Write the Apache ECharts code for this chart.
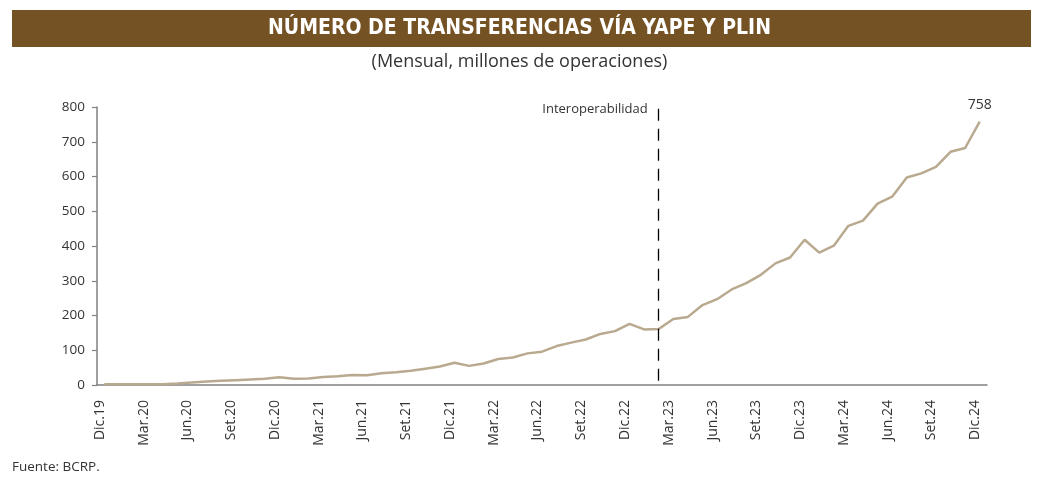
<!DOCTYPE html>
<html>
<head>
<meta charset="utf-8">
<script src="https://cdn.jsdelivr.net/npm/echarts@6/dist/echarts.min.js"></script>
<style>
  html, body { margin: 0; padding: 0; background: #fff; }
  #container { width: 1039px; height: 479px; }
</style>
</head>
<body>
<div id="container"></div>
<script>
// meses, dic.19 - dic.24
var meses = [
  'Dic.19',
  'Ene.20', 'Feb.20', 'Mar.20', 'Abr.20', 'May.20', 'Jun.20', 'Jul.20', 'Ago.20', 'Set.20', 'Oct.20', 'Nov.20', 'Dic.20',
  'Ene.21', 'Feb.21', 'Mar.21', 'Abr.21', 'May.21', 'Jun.21', 'Jul.21', 'Ago.21', 'Set.21', 'Oct.21', 'Nov.21', 'Dic.21',
  'Ene.22', 'Feb.22', 'Mar.22', 'Abr.22', 'May.22', 'Jun.22', 'Jul.22', 'Ago.22', 'Set.22', 'Oct.22', 'Nov.22', 'Dic.22',
  'Ene.23', 'Feb.23', 'Mar.23', 'Abr.23', 'May.23', 'Jun.23', 'Jul.23', 'Ago.23', 'Set.23', 'Oct.23', 'Nov.23', 'Dic.23',
  'Ene.24', 'Feb.24', 'Mar.24', 'Abr.24', 'May.24', 'Jun.24', 'Jul.24', 'Ago.24', 'Set.24', 'Oct.24', 'Nov.24', 'Dic.24'
];

// millones de operaciones
var transferencias = [
  2,
  2, 2, 2, 2, 4, 7, 10, 12, 14, 16, 18, 22,
  18, 19, 23, 25, 29, 28, 34, 37, 41, 47, 53, 64,
  55, 62, 75, 79, 91, 96, 112, 122, 131, 147, 155, 176,
  160, 161, 190, 196, 230, 247, 275, 293, 317, 350, 367, 418,
  381, 401, 458, 473, 522, 542, 597, 609, 628, 671, 682, 758
];

var mesInterop = 'Feb.23';
var textoInterop = 'Interoperabilidad';
var ejeY = { min: 0, max: 800, interval: 100 };

var dom = document.getElementById('container');
var myChart = echarts.init(dom);

var ultimo = transferencias.length - 1;
var fuente = 'Open Sans';

var option = {
  animation: false,
  backgroundColor: '#fff',
  graphic: [{
    type: 'rect',
    shape: { x: 12, y: 10, width: 1019, height: 37 },
    style: { fill: '#745224' },
    z: -1
  }],
  title: [{
    text: 'NÚMERO DE TRANSFERENCIAS VÍA YAPE Y PLIN',
    left: 'center',
    top: 18,
    padding: 0,
    textStyle: { color: '#fff', fontSize: 21, fontWeight: 'bold', fontFamily: 'DejaVu Sans Condensed' }
  }, {
    text: '(Mensual, millones de operaciones)',
    left: 'center',
    top: 53,
    padding: 0,
    textStyle: { color: '#333', fontSize: 18, fontWeight: 'normal', fontFamily: fuente }
  }, {
    text: 'Fuente: BCRP.',
    left: 12,
    top: 460,
    padding: 0,
    textStyle: { color: '#333', fontSize: 13.5, fontWeight: 'normal', fontFamily: fuente }
  }],
  grid: { left: 97, right: 52, top: 107, bottom: 94 },
  xAxis: {
    type: 'category',
    data: meses,
    boundaryGap: true,
    axisLine: { lineStyle: { color: '#808080', width: 1.5 } },
    axisTick: { interval: 2, length: 5, lineStyle: { color: '#808080', width: 1.2 } },
    axisLabel: {
      interval: 2,
      rotate: 90,
      margin: 15,
      verticalAlign: 'bottom',
      lineHeight: 9,
      color: '#333',
      fontSize: 14,
      fontFamily: fuente
    },
    splitLine: { show: false }
  },
  yAxis: {
    type: 'value',
    min: ejeY.min,
    max: ejeY.max,
    interval: ejeY.interval,
    axisLine: { show: true, lineStyle: { color: '#808080', width: 1.5 } },
    axisTick: { show: true, length: 5, lineStyle: { color: '#808080', width: 1.2 } },
    axisLabel: { color: '#333', fontSize: 13.5, margin: 12, fontFamily: fuente },
    splitLine: { show: false }
  },
  series: [{
    name: 'Transferencias',
    type: 'line',
    data: transferencias,
    showSymbol: false,
    lineStyle: { color: '#b9a98f', width: 2.5 },
    itemStyle: { color: '#b9a98f' },
    markLine: {
      silent: true,
      symbol: 'none',
      label: { show: false },
      lineStyle: { color: '#000', type: [12, 8], width: 1.3 },
      emphasis: { disabled: true },
      data: [[{ coord: [mesInterop, 12] }, { coord: [mesInterop, 800] }]]
    },
    markPoint: {
      silent: true,
      symbol: 'circle',
      symbolSize: 0,
      data: [{
        coord: [mesInterop, 792],
        value: textoInterop,
        label: {
          show: true,
          position: 'left',
          distance: 11,
          formatter: '{c}',
          color: '#333',
          fontSize: 13,
          fontFamily: fuente
        }
      }, {
        coord: [meses[ultimo], transferencias[ultimo]],
        value: transferencias[ultimo],
        label: {
          show: true,
          position: 'top',
          distance: 10,
          formatter: '{c}',
          color: '#333',
          fontSize: 14,
          fontFamily: fuente
        }
      }]
    }
  }]
};

if (option && typeof option === 'object') {
  myChart.setOption(option, true);
}
</script>
</body>
</html>
